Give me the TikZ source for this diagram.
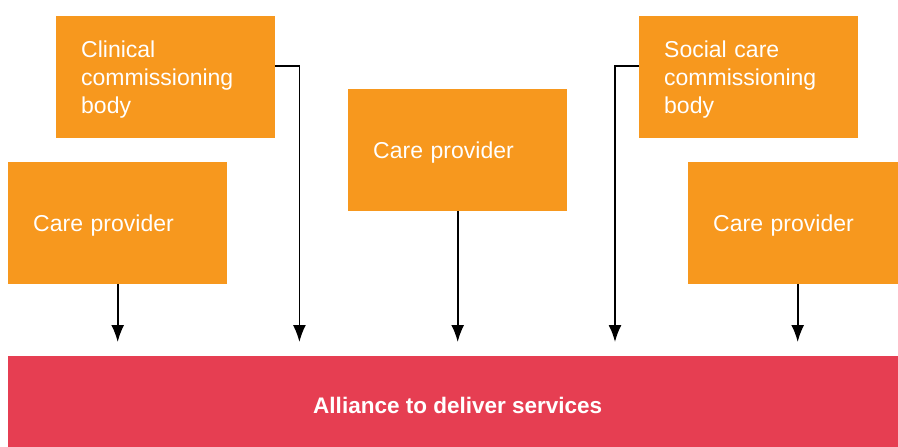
\documentclass[tikz,border=0pt]{standalone}
\usepackage{fontspec}
\setmainfont{Liberation Sans}
\usepackage{tikz}
\usetikzlibrary{arrows.meta}
\tikzset{box/.style = {fill=morange, text=white, anchor=north west,
                       minimum width=219pt, minimum height=121.5pt,
                       text width=169pt, inner xsep=25pt, inner ysep=0pt,
                       align=left, text depth=0pt,
                       font=\fontsize{23}{28}\selectfont}}
\tikzset{three/.style = {text depth=56pt}}
\tikzset{link/.style = {line width=1.7pt, -{Latex[length=17pt, width=13pt]},
                        shorten >=14pt}}
\definecolor{morange}{RGB}{247, 152, 30}
\definecolor{mred}{RGB}{230, 62, 82}

\begin{document}
\begin{tikzpicture}[x=1pt, y=-1pt]
    \useasboundingbox (0, 0) rectangle (898, 447);

    \node [box, three] (ccb) at (56, 16) {Clinical\\commissioning\\body};
    \node [box, three] (scb) at (639, 16) {Social care\\commissioning\\body};
    \node [box] (cpl) at (8, 162) {Care provider};
    \node [box] (cpc) at (348, 89) {Care provider};
    \node [box] (cpr) at (688, 162) {Care provider};

    \node [fill=mred, text=white, anchor=north west, minimum width=899pt,
           minimum height=99pt, text depth=0pt,
           font=\fontsize{22.5}{28}\selectfont\bfseries] (all) at (8, 356)
          {Alliance to deliver services};

    \foreach \n in {cpl,cpc,cpr} {
      \draw [link] (\n.south) -- (\n.south |- all.north);
    }
    \draw [link] ([yshift=-50pt]ccb.north east) -| ([xshift=24pt]ccb.east |- all.north);
    \draw [link] ([yshift=-50pt]scb.north west) -| ([xshift=-24pt]scb.west |- all.north);
  \end{tikzpicture}
\end{document}
